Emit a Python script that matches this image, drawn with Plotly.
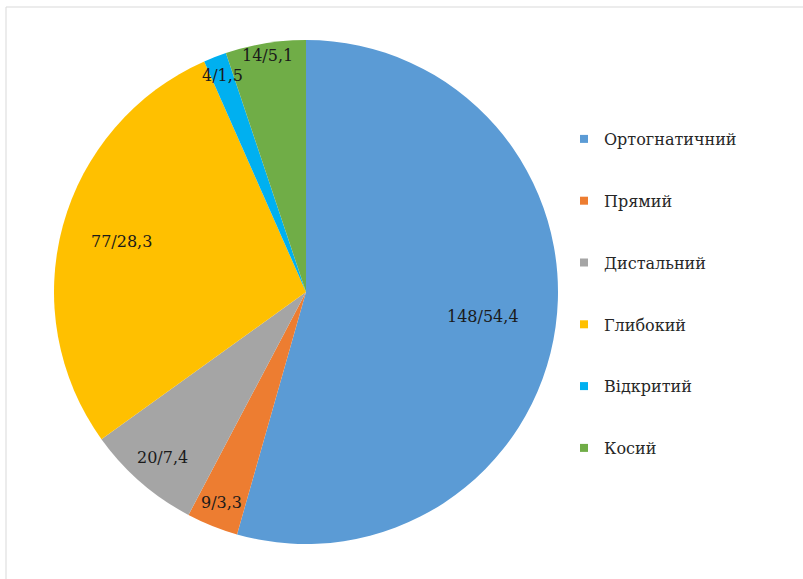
import math
import plotly.graph_objects as go

categories = ["Ортогнатичний", "Прямий", "Дистальний", "Глибокий", "Відкритий", "Косий"]
counts = [148, 9, 20, 77, 4, 14]
colors = ["#5B9BD5", "#ED7D31", "#A5A5A5", "#FFC000", "#00B0F0", "#70AD47"]
label_radius = [0.71, 0.9, 0.87, 0.76, 0.92, 0.95]

W, H = 803, 579
CX, CY, R = 306, 292, 252
SERIF = "DejaVu Serif"

total = sum(counts)
pct = [c / total * 100 for c in counts]
labels = [f"{c}/{p:.1f}".replace(".", ",") for c, p in zip(counts, pct)]

fig = go.Figure()
fig.add_trace(go.Pie(
    labels=categories, values=counts, sort=False, direction="clockwise",
    rotation=0, marker=dict(colors=colors, line=dict(width=0)),
    textinfo="none", hoverinfo="label+value+percent", showlegend=False,
    domain=dict(x=[(CX - R) / W, (CX + R) / W], y=[1 - (CY + R) / H, 1 - (CY - R) / H]),
))

cum = 0
annotations = []
for c, lab, rf in zip(counts, labels, label_radius):
    mid = (cum + c / 2) / total * 2 * math.pi
    cum += c
    x = CX + rf * R * math.sin(mid)
    y = CY - rf * R * math.cos(mid)
    annotations.append(dict(x=x / W, y=1 - y / H, xref="paper", yref="paper", text=lab,
                            xanchor="center", yanchor="middle", showarrow=False,
                            font=dict(family=SERIF, size=16, color="#1a1a1a")))

for i, (cat, col) in enumerate(zip(categories, colors)):
    fig.add_trace(go.Scatter(x=[None], y=[None], mode="markers", name=cat,
                             marker=dict(symbol="square", size=8, color=col),
                             legendgroup=f"g{i}", showlegend=True))

fig.update_layout(
    width=W, height=H, margin=dict(l=0, r=0, t=0, b=0),
    paper_bgcolor="white", plot_bgcolor="white",
    xaxis=dict(visible=False), yaxis=dict(visible=False),
    annotations=annotations,
    legend=dict(x=564 / W, y=1 - 122 / H, xanchor="left", yanchor="top",
                font=dict(family=SERIF, size=16, color="#262626"),
                tracegroupgap=38, itemwidth=30, bgcolor="rgba(0,0,0,0)"),
    shapes=[dict(type="rect", xref="paper", yref="paper", x0=6 / W, x1=1.2, y0=-0.2, y1=1 - 7 / H,
                 line=dict(color="#d9d9d9", width=1))],
)

fig.write_html("out.html")
